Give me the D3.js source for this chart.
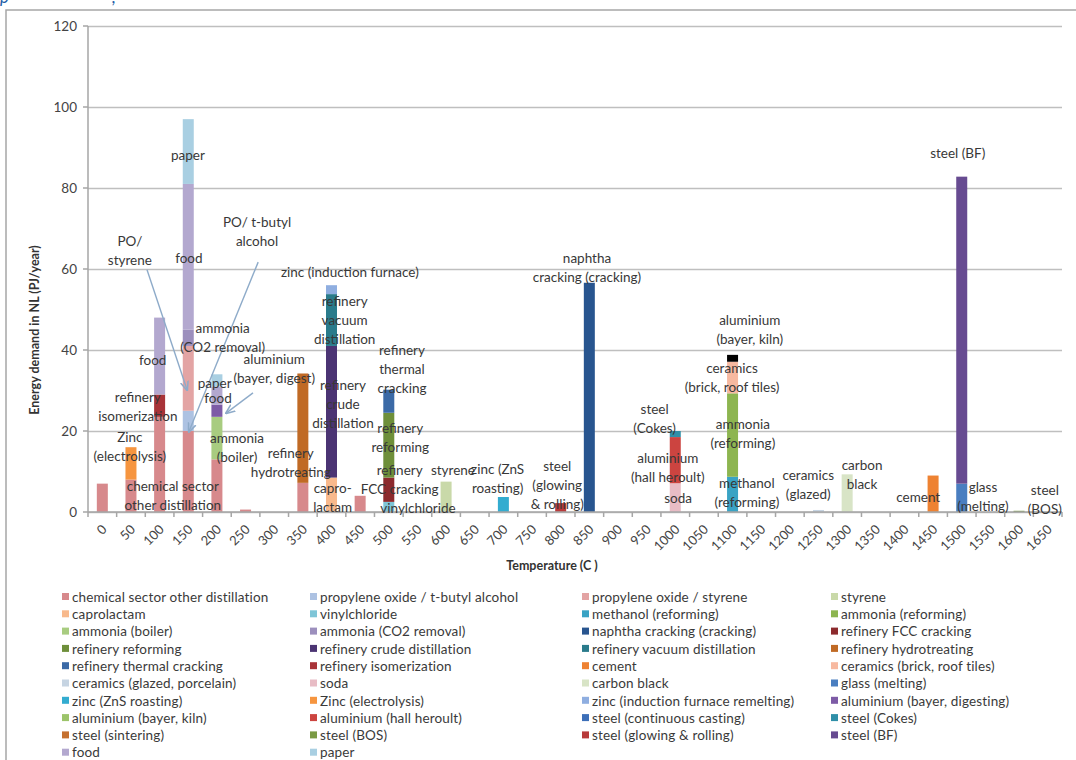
<!DOCTYPE html>
<html><head><meta charset="utf-8">
<script src="https://cdn.jsdelivr.net/npm/d3@7"></script>
<style>
body{margin:0;background:#fff}
svg{display:block}
text{font-family:Lato,"Open Sans",sans-serif}
</style>
</head><body>
<svg id="c" width="1076" height="760"></svg>
<script>
const temperatures = d3.range(0, 1651, 50);
const yTicks = [0, 20, 40, 60, 80, 100, 120];

const seriesNames = [
  "chemical sector other distillation", "propylene oxide / t-butyl alcohol", "propylene oxide / styrene", "styrene",
  "caprolactam", "vinylchloride", "methanol (reforming)", "ammonia (reforming)",
  "ammonia (boiler)", "ammonia (CO2 removal)", "naphtha cracking (cracking)", "refinery FCC cracking",
  "refinery reforming", "refinery crude distillation", "refinery vacuum distillation", "refinery hydrotreating",
  "refinery thermal cracking", "refinery isomerization", "cement", "ceramics (brick, roof tiles)",
  "ceramics (glazed, porcelain)", "soda", "carbon black", "glass (melting)",
  "zinc (ZnS roasting)", "Zinc (electrolysis)", "zinc (induction furnace remelting)", "aluminium (bayer, digesting)",
  "aluminium (bayer, kiln)", "aluminium (hall heroult)", "steel (continuous casting)", "steel (Cokes)",
  "steel (sintering)", "steel (BOS)", "steel (glowing & rolling)", "steel (BF)",
  "food", "paper"
];
const seriesColors = [
  "#d7898c", "#adc2e2", "#e3a4a4", "#c9d9a9",
  "#f8b98c", "#7ec5d7", "#39a3c4", "#8db550",
  "#a8cc80", "#9c8fbd", "#28558f", "#8c2a2d",
  "#6e8f3a", "#4b3473", "#2a7b8b", "#c06a25",
  "#3b6aa6", "#a83338", "#ee8232", "#f7b9a0",
  "#c6d4e2", "#e8bcc5", "#d8e4c6", "#4a7ec0",
  "#33acd0", "#f6953f", "#8faee0", "#7d5ba6",
  "#9cc46a", "#cc4440", "#3d6fb8", "#2f8fa8",
  "#c5702f", "#7a9a44", "#b83a3a", "#674b91",
  "#b3a8cf", "#a9cfe2"
];

// [series, temperature, PJ/year]
const readings = [
  ["chemical sector other distillation", 0, 7], ["chemical sector other distillation", 50, 8],
  ["chemical sector other distillation", 100, 23.5], ["chemical sector other distillation", 150, 20],
  ["chemical sector other distillation", 200, 13], ["chemical sector other distillation", 250, 0.6],
  ["chemical sector other distillation", 350, 7.2], ["chemical sector other distillation", 450, 4],
  ["propylene oxide / t-butyl alcohol", 150, 5],
  ["propylene oxide / styrene", 150, 16],
  ["styrene", 600, 7.5],
  ["caprolactam", 400, 8.5],
  ["vinylchloride", 500, 2.5],
  ["methanol (reforming)", 1100, 8.7],
  ["ammonia (reforming)", 1100, 20.6],
  ["ammonia (boiler)", 200, 10.5],
  ["ammonia (CO2 removal)", 150, 4],
  ["naphtha cracking (cracking)", 850, 56.6],
  ["refinery FCC cracking", 500, 6],
  ["refinery reforming", 500, 16],
  ["refinery crude distillation", 400, 32.5],
  ["refinery vacuum distillation", 400, 12.8],
  ["refinery hydrotreating", 350, 27],
  ["refinery thermal cracking", 500, 5.7],
  ["refinery isomerization", 100, 5.5],
  ["cement", 1450, 9],
  ["ceramics (brick, roof tiles)", 1100, 7.8],
  ["ceramics (glazed, porcelain)", 1250, 0.5],
  ["soda", 1000, 7.1],
  ["carbon black", 1300, 9.3],
  ["glass (melting)", 1500, 7],
  ["zinc (ZnS roasting)", 700, 3.7],
  ["Zinc (electrolysis)", 50, 8],
  ["zinc (induction furnace remelting)", 400, 2.2],
  ["aluminium (bayer, digesting)", 200, 3],
  ["aluminium (bayer, kiln)", 1100, 1.7],
  ["aluminium (hall heroult)", 1000, 11.4],
  ["steel (Cokes)", 1000, 1.5],
  ["steel (BOS)", 1600, 0.3],
  ["steel (glowing & rolling)", 800, 2.2],
  ["steel (BF)", 1500, 75.8],
  ["food", 100, 19], ["food", 150, 36], ["food", 200, 4.5],
  ["paper", 150, 16], ["paper", 200, 3]
];
const pointColorOverrides = [["aluminium (bayer, kiln)", 1100, "#000000"]];

// annotation labels: [lines, temperature position, value position of first line]
const annotations = [
  [["paper"], 149.5, 88.1],
  [["food"], 151, 62.7],
  [["PO/", "styrene"], 48, 66.9],
  [["PO/ t-butyl", "alcohol"], 270, 71.6],
  [["zinc (induction furnace)"], 432, 59.3],
  [["refinery", "vacuum", "distillation"], 423, 52.1],
  [["ammonia", "(CO2 removal)"], 210, 45.4],
  [["aluminium", "(bayer, digest)"], 300, 37.6],
  [["food"], 88, 37.5],
  [["refinery", "isomerization"], 62, 28.4],
  [["paper"], 196, 31.9],
  [["food"], 202, 28.2],
  [["ammonia", "(boiler)"], 235, 18.3],
  [["Zinc", "(electrolysis)"], 48, 18.5],
  [["chemical sector", "other distillation"], 123, 6.4],
  [["refinery", "hydrotreating"], 329, 14.6],
  [["refinery", "crude", "distillation"], 420, 31.4],
  [["capro-", "lactam"], 402, 5.9],
  [["refinery", "thermal", "cracking"], 523, 40],
  [["refinery", "reforming"], 520, 20.7],
  [["refinery", "FCC cracking"], 519, 10.4],
  [["vinylchloride"], 551, 1.0],
  [["styrene"], 612, 10.4],
  [["zinc (ZnS", "roasting)"], 690, 10.6],
  [["steel", "(glowing", "& rolling)"], 794, 11.4],
  [["naphtha", "cracking (cracking)"], 846, 62.7],
  [["steel", "(Cokes)"], 964, 25.4],
  [["aluminium", "(hall heroult)"], 987, 13.3],
  [["soda"], 1005, 3.5],
  [["aluminium", "(bayer, kiln)"], 1130, 47.4],
  [["ceramics", "(brick, roof tiles)"], 1099, 35.6],
  [["ammonia", "(reforming)"], 1118, 21.7],
  [["methanol", "(reforming)"], 1125, 7.2],
  [["ceramics", "(glazed)"], 1232, 9.1],
  [["carbon", "black"], 1326, 11.6],
  [["cement"], 1424, 3.7],
  [["glass", "(melting)"], 1537, 6.2],
  [["steel", "(BOS)"], 1645, 5.4],
  [["steel (BF)"], 1493, 88.6]
];
// arrows: [fromTemp, fromValue, toTemp, toValue]
const arrows = [
  [78, 59.8, 148, 30.1],
  [272, 61.7, 151, 19.8],
  [263, 29.4, 216, 24.4]
];

const svg = d3.select("#c");
const plotL = 88, plotR = 1062, plotT = 26, plotB = 512;

// frame
svg.append("rect").attr("x", 6).attr("y", 10).attr("width", 1090).attr("height", 770)
  .attr("fill", "none").attr("stroke", "#a6a6a6").attr("stroke-width", 1.5);
svg.append("text").attr("x", 0).attr("y", 3).attr("fill", "#1f5fa8")
  .attr("font-size", 17).attr("font-style", "italic").text("p");
svg.append("text").attr("x", 112).attr("y", 3).attr("fill", "#1f5fa8")
  .attr("font-size", 17).attr("font-style", "italic").text(",");

const x = d3.scaleBand().domain(temperatures).range([plotL, plotR])
  .paddingInner(0.616).paddingOuter(0.308);
const y = d3.scaleLinear().domain([0, 120]).range([plotB, plotT]);
const xT = d3.scaleLinear().domain([-25, 1675]).range([plotL, plotR]);

// gridlines + y axis
const yAxis = d3.axisLeft(y).tickValues(yTicks).tickSize(-(plotR - plotL)).tickPadding(10);
const gy = svg.append("g").attr("transform", `translate(${plotL},0)`).call(yAxis);
gy.select(".domain").remove();
gy.selectAll(".tick line").attr("stroke", "#bfbfbf").attr("stroke-width", 1.6);
gy.selectAll(".tick text").attr("font-size", 13.5).attr("fill", "#444")
  .attr("font-family", "Lato, sans-serif").attr("dx", -1);
svg.append("line").attr("x1", plotL).attr("x2", plotL).attr("y1", plotT).attr("y2", plotB)
  .attr("stroke", "#a6a6a6").attr("stroke-width", 1.5);
svg.selectAll(".ytk").data(yTicks).join("line").attr("class", "ytk")
  .attr("x1", plotL - 5).attr("x2", plotL).attr("y1", d => y(d)).attr("y2", d => y(d))
  .attr("stroke", "#a6a6a6").attr("stroke-width", 1.5);

// data table
const rows = temperatures.map(t => {
  const r = { temp: t };
  seriesNames.forEach(s => r[s] = 0);
  return r;
});
readings.forEach(([s, t, v]) => { rows[temperatures.indexOf(t)][s] += v; });
const colorOf = d3.scaleOrdinal().domain(seriesNames).range(seriesColors);
const overrideMap = new Map(pointColorOverrides.map(([s, t, c]) => [s + "|" + t, c]));

const stacked = d3.stack().keys(seriesNames)(rows);
svg.append("g").selectAll("g").data(stacked).join("g")
  .each(function (layer) {
    d3.select(this).selectAll("rect")
      .data(layer.filter(d => d[1] - d[0] > 0))
      .join("rect")
      .attr("x", d => x(d.data.temp))
      .attr("width", x.bandwidth())
      .attr("y", d => y(d[1]))
      .attr("height", d => y(d[0]) - y(d[1]))
      .attr("fill", d => overrideMap.get(layer.key + "|" + d.data.temp) || colorOf(layer.key));
  });

// x axis
svg.append("line").attr("x1", plotL).attr("x2", plotR).attr("y1", plotB).attr("y2", plotB)
  .attr("stroke", "#a6a6a6").attr("stroke-width", 1.5);
const bounds = temperatures.map(t => x(t) - (x.step() - x.bandwidth()) / 2).concat([plotR]);
svg.selectAll(".xtk").data(bounds).join("line").attr("class", "xtk")
  .attr("x1", d => d).attr("x2", d => d).attr("y1", plotB).attr("y2", plotB + 5)
  .attr("stroke", "#a6a6a6").attr("stroke-width", 1.5);
svg.selectAll(".xlab").data(temperatures).join("text").attr("class", "xlab")
  .attr("text-anchor", "end").attr("font-size", 13).attr("fill", "#444")
  .attr("transform", t => `translate(${x(t) + x.bandwidth() / 2 + 2},${plotB + 15}) rotate(-45)`)
  .attr("dy", "0.35em")
  .text(t => t);

// axis titles
svg.append("text").attr("transform", "translate(39,330) rotate(-90)")
  .attr("text-anchor", "middle").attr("font-size", 12.5).attr("font-weight", "bold")
  .attr("fill", "#333").text("Energy demand  in NL (PJ/year)");
svg.append("text").attr("x", 552).attr("y", 570).attr("text-anchor", "middle")
  .attr("font-size", 12.5).attr("font-weight", "bold").attr("fill", "#333").text("Temperature (C )");

// arrows
svg.append("defs").append("marker").attr("id", "ah").attr("viewBox", "0 0 10 10")
  .attr("refX", 9).attr("refY", 5).attr("markerWidth", 7).attr("markerHeight", 7)
  .attr("orient", "auto").append("path").attr("d", "M0,1 L10,5 L0,9").attr("fill", "none")
  .attr("stroke", "#8eabc9").attr("stroke-width", 1.5);
svg.selectAll(".arr").data(arrows).join("line").attr("class", "arr")
  .attr("x1", d => xT(d[0])).attr("y1", d => y(d[1]))
  .attr("x2", d => xT(d[2])).attr("y2", d => y(d[3]))
  .attr("stroke", "#8eabc9").attr("stroke-width", 1.4).attr("marker-end", "url(#ah)");

// annotation labels
const lineH = 19;
const ag = svg.append("g");
annotations.forEach(([lines, t, v]) => {
  const tx = ag.append("text").attr("text-anchor", "middle").attr("font-size", 13.5)
    .attr("fill", "#383838");
  lines.forEach((ln, i) => {
    tx.append("tspan").attr("x", xT(t)).attr("y", y(v) + i * lineH).attr("dy", "0.35em").text(ln);
  });
});

// legend
const colX = [62, 310, 582, 831];
const rowY0 = 597, rowH = 17.3;
const lg = svg.append("g");
seriesNames.forEach((s, i) => {
  const cx = colX[i % 4], cy = rowY0 + Math.floor(i / 4) * rowH;
  lg.append("rect").attr("x", cx).attr("y", cy - 4).attr("width", 7).attr("height", 7)
    .attr("fill", seriesColors[i]);
  lg.append("text").attr("x", cx + 10).attr("y", cy).attr("dy", "0.35em")
    .attr("font-size", 13.5).attr("letter-spacing", 0.15).attr("fill", "#3a3a3a").text(s);
});
</script>
</body></html>
